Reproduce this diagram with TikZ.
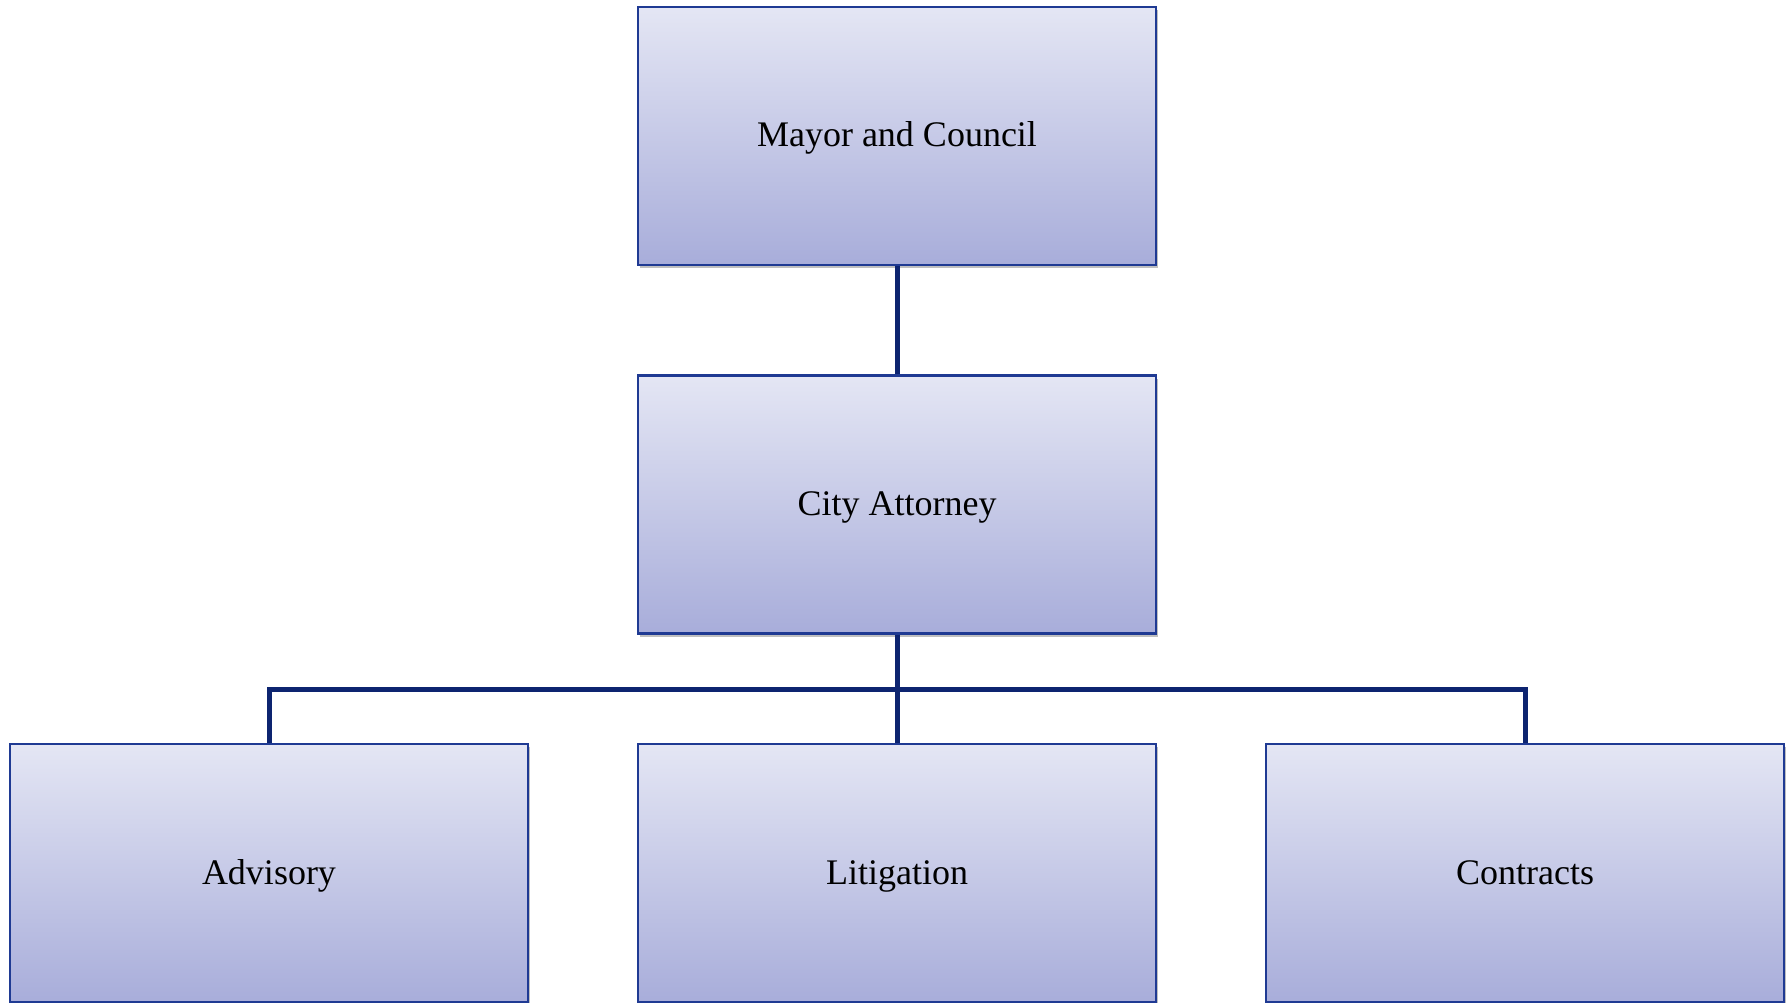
\documentclass[tikz,border=0pt]{standalone}
\usepackage{fontspec}
\setmainfont{Liberation Serif}
\usetikzlibrary{shadows}
\definecolor{boxtop}{HTML}{E4E6F4}
\definecolor{boxbottom}{HTML}{A8ADDA}
\definecolor{boxedge}{HTML}{1F3A93}
\definecolor{linkcol}{HTML}{0D2470}
\tikzset{
  orgbox/.style={draw=boxedge, line width=2.2pt, rectangle,
    minimum width=518pt, minimum height=258pt, inner sep=0pt,
    text height=27pt, text depth=5pt,
    top color=boxtop, bottom color=boxbottom,
    drop shadow={shadow xshift=2pt, shadow yshift=-3pt, opacity=0.25, fill=black},
    font=\fontsize{36}{40}\selectfont, text=black},
  link/.style={draw=linkcol, line width=5pt, line join=miter}
}
\begin{document}
\begin{tikzpicture}[x=1pt, y=-1pt]
  \fill[white] (0,0) rectangle (1792,1003);
  \useasboundingbox (0,0) rectangle (1792,1003);
  % hierarchy boxes
  \node[orgbox] (mayor) at (897,136) {Mayor and Council};
  \node[orgbox] (city)  at (897,504.5) {City Attorney};
  \node[orgbox] (adv)   at (269,873) {Advisory};
  \node[orgbox] (lit)   at (897,873) {Litigation};
  \node[orgbox] (con)   at (1525,873) {Contracts};
  % junction of the branch bar
  \coordinate (junc) at (897,689);
  % connectors
  \draw[link] (mayor.south) -- (city.north);
  \draw[link] (city.south) -- (junc) -- (lit.north);
  \draw[link] (adv.north) |- (junc) -| (con.north);
\end{tikzpicture}
\end{document}
